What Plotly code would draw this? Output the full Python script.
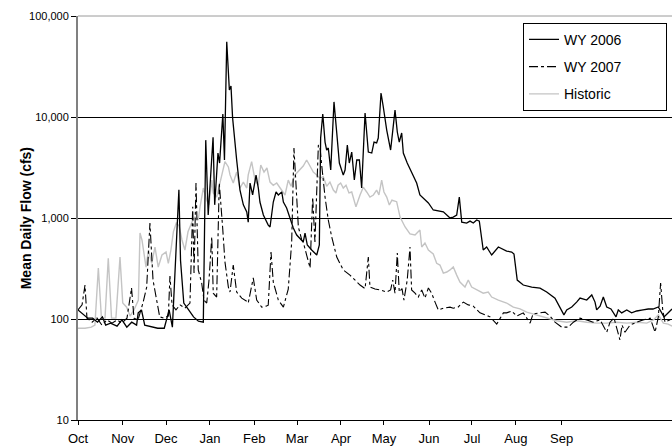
import plotly.graph_objects as go

# ---- data (day of water year from Oct 1, mean daily flow in cfs) ----
wy2006_day = [0, 4, 6, 9, 12, 15, 17, 20, 24, 27, 30, 33, 36, 37, 39, 41, 44, 49, 53, 55, 56, 58,
              60, 61, 62, 63, 65, 68, 71, 74, 76, 77, 78.5, 80, 83, 84, 86, 87, 89, 90, 91.4, 93, 94,
              95, 97.5, 99.5, 101.6, 103.7, 104.6, 105.7, 107.3, 109.4, 110.8, 111.8, 113.9, 116.9,
              118, 120, 121.7, 123.1, 125.2, 126.2, 128.2, 130.3, 132.3, 134.4, 136.4, 138.4, 139.5,
              140.9, 143.6, 146.7, 148.3, 149.1, 150.4, 151.8, 152.8, 153.8, 155.3, 157.3, 159, 160.6,
              163, 164.1, 165.5, 166.7, 168.2, 169.8, 171.3, 172.9, 174.3, 176.4, 178.4, 180.5, 181.9,
              183.5, 184.5, 186.2, 187.6, 189.7, 192.1, 194.8, 196.2, 197.4, 198.9, 199.9, 202.3, 205,
              208.1, 210.1, 212.2, 215.3, 218.3, 221.4, 224.5, 228.6, 230.6, 232.7, 234.3, 235.8,
              238.8, 240.9, 242.9, 245, 246.6, 249, 251.1, 254.2, 258.3, 263.4, 266.5, 267.9, 269.9,
              273.6, 278.8, 283.9, 288, 293.1, 296.2, 298.6, 300.3, 303.4, 306.4, 308.5, 312.6, 315.7,
              317.7, 318.7, 320.8, 322.8, 324.9, 327.5, 330.6, 332, 334.1, 337.2, 340.2, 343.3, 347.2,
              350.4, 353.3, 356.6, 360.1, 362.7, 365]
wy2006_cfs = [123, 110, 102, 102, 93, 105, 87, 91, 85, 98, 83, 93, 87, 115, 123, 87, 85, 81, 81, 105,
              123, 83, 480, 1070, 1900, 380, 144, 123, 105, 95, 93, 93, 5900, 1070, 6300, 1350, 4400,
              3500, 10700, 3750, 55600, 18500, 20300, 9800, 3750, 1900, 1350, 1150, 910, 2220, 1690,
              2660, 1980, 1440, 1070, 850, 814, 1440, 1810, 1690, 1810, 1440, 1256, 1000, 795, 678,
              633, 578, 710, 540, 482, 430, 540, 6190, 10700, 5650, 4710, 4930, 2985, 14100, 6940,
              3500, 2660, 2985, 5280, 3500, 4500, 2380, 3750, 3750, 1980, 10950, 4500, 4400, 5650,
              5530, 6190, 17280, 12560, 7430, 4710, 11700, 7100, 5650, 6940, 4400, 3500, 2790, 2220,
              1690, 1577, 1410, 1200, 1175, 1150, 1000, 1020, 1070, 1610, 910, 891, 932, 891, 955,
              932, 482, 516, 430, 516, 471, 460, 440, 243, 217, 207, 202, 185, 161, 131.5, 110, 123,
              131.5, 147, 161, 154, 173, 147, 123, 134, 165, 131.5, 125.6, 105, 123, 115, 123, 115,
              120, 123, 125.6, 125.6, 131.5, 105, 115, 125.6]

wy2007_day = [0, 2.5, 4.3, 5.5, 8.6, 11.7, 14.7, 17.8, 20.9, 24, 27, 30.1, 32.9, 34.4, 36.9, 39.9,
              42.2, 44.2, 46.1, 48.2, 50.2, 52.8, 55.5, 56.5, 57.8, 60.2, 62.7, 65.7, 68.8, 70.5, 71.3,
              72.5, 73.9, 76, 77.4, 79.1, 80.5, 82.2, 83.1, 85.2, 86.8, 88.9, 90.3, 92.4, 93.4, 95.4,
              97.5, 100.6, 103.7, 104.6, 107.7, 109.8, 112.9, 115.5, 116.9, 118.6, 120, 123.1, 126.2,
              129.2, 131.3, 132.7, 134, 135.4, 137.5, 138.4, 140.5, 142.6, 144.2, 145.6, 147.7, 148.7,
              149.7, 151.8, 153.8, 155.9, 159, 163, 167.1, 170.2, 173.3, 176.4, 178.4, 179.4, 182.5,
              185.6, 189.7, 192.1, 193.4, 194.8, 196.2, 197.4, 199.1, 200.3, 202.3, 204, 205, 207.1,
              209.1, 211.2, 213.2, 215.3, 217.3, 219.4, 221.4, 224.5, 228.6, 230.6, 233.5, 236.8,
              239.8, 242.9, 247, 250.1, 253.2, 257.3, 261.4, 263.4, 266.5, 269.6, 273.6, 277.8, 279.6,
              283.9, 287, 290, 293.1, 297.2, 301.3, 304.4, 308.5, 312.6, 316.5, 320.8, 324.9, 326.9,
              329.4, 333, 334.3, 336.1, 339.2, 343.3, 347.2, 351.6, 354.6, 356.6, 358, 359.3, 360.7,
              363.8, 365]
wy2007_cfs = [123, 138, 217, 102, 93, 102, 87, 98, 91, 98, 91, 102, 203, 102, 98, 144, 207, 890, 243,
              154, 105, 102, 107, 266, 138, 123, 138, 128, 144, 1290, 285, 2220, 306, 227, 154, 144,
              243, 650, 180, 165, 2220, 795, 368, 207, 185, 342, 185, 161, 150, 144, 255, 154, 131,
              134, 137, 460, 232, 154, 131, 198, 578, 4930, 2220, 815, 606, 578, 430, 320, 1610, 578,
              5280, 5050, 3400, 1610, 955, 650, 410, 306, 272, 243, 217, 200, 410, 207, 198, 194, 185,
              194, 243, 180, 450, 185, 200, 154, 243, 516, 194, 180, 165, 194, 161, 203, 180, 147,
              123, 128, 131, 128, 131, 147, 138, 134, 115, 110, 105, 89, 115, 115, 120, 107, 115, 91,
              112, 115, 117, 107, 93, 83, 83, 93, 102, 98, 93, 98, 74, 93, 102, 62, 87, 74, 87, 93,
              98, 102, 74, 105, 227, 123, 93, 98, 102]

hist_day = [0, 4.3, 8.2, 10.4, 12.5, 14.4, 16.6, 18.6, 20.6, 23.3, 25.8, 27.5, 29.9, 32, 34.4, 37.1,
            38.1, 39.3, 41.8, 43.3, 45.3, 47.3, 49.3, 51.6, 54.1, 55.5, 57.1, 58.6, 60.4, 62.1, 63.9,
            65.7, 67.6, 70, 71.9, 73.9, 75, 77, 79.1, 80.5, 82.2, 83.1, 85.2, 86.6, 88.3, 90.3, 92.4,
            93.4, 95.4, 97.5, 99.5, 101.6, 103.7, 104.6, 106.7, 108.8, 110.8, 112.3, 114.3, 116.1,
            118, 120, 122.1, 124.1, 127.2, 129.2, 130.9, 133.3, 136.4, 138.4, 140.5, 142.6, 144.6,
            146.7, 148.7, 150.7, 152.8, 154.8, 156.9, 158.5, 159.8, 161.4, 163, 164.7, 166.5, 168.2,
            170.8, 173.3, 175.3, 177.4, 179.4, 181.5, 183.5, 184.9, 186.6, 188, 189.7, 191.3, 192.9,
            195.8, 197.9, 201, 204, 207.1, 210.1, 211.2, 213.2, 215.3, 218.3, 220.4, 222.4, 224.5,
            226.6, 228.6, 230.6, 232.7, 234.7, 237.8, 239.8, 241.9, 245, 249, 252.1, 254.2, 258.3,
            263.4, 267.5, 271.6, 275.7, 281.9, 288, 294.1, 300.3, 306.4, 312.6, 318.7, 324.9, 331,
            337.2, 343.3, 349.5, 353.6, 356.6, 359.7, 362.6, 365]
hist_cfs = [81, 81, 83, 87, 320, 102, 102, 400, 102, 102, 410, 144, 131, 107, 123, 154, 710, 606, 327,
            482, 356, 516, 327, 430, 460, 356, 482, 730, 890, 835, 606, 482, 730, 910, 1020, 955,
            1290, 1980, 1500, 1345, 2370, 1770, 1610, 1980, 2570, 3610, 3200, 2670, 2220, 2850, 1980,
            2270, 1980, 2670, 3610, 2370, 2110, 3350, 2850, 3125, 2270, 2110, 2220, 1980, 1690, 2370,
            2060, 2670, 2990, 3270, 3750, 3270, 2850, 2670, 2480, 2570, 2060, 2270, 1890, 1770, 2110,
            2220, 1980, 2110, 1770, 1810, 1290, 1690, 2020, 1810, 1610, 1690, 1890, 1690, 2370, 1810,
            1610, 1345, 1500, 1450, 1020, 815, 695, 680, 760, 516, 565, 482, 440, 356, 342, 285, 292,
            306, 327, 272, 232, 207, 243, 207, 194, 180, 185, 165, 154, 144, 131, 126, 117, 110, 102,
            96, 93, 96, 93, 91, 91, 93, 91, 93, 91, 98, 110, 91, 89, 85]

series_names = ["WY 2006", "WY 2007", "Historic"]
month_labels = ["Oct", "Nov", "Dec", "Jan", "Feb", "Mar", "Apr", "May", "Jun", "Jul", "Aug", "Sep"]
month_ticks = [0, 27.5, 54.1, 81.1, 108.3, 134.6, 161.6, 188, 215.7, 242.1, 269.1, 297.2]
y_tickvals = [10, 100, 1000, 10000, 100000]
y_ticktext = ["10", "100", "1,000", "10,000", "100,000"]

FONT = "Arial, 'Liberation Sans', sans-serif"
PAD = "\u00a0" * 10  # widens the legend box to the right of the labels


def legend_label(name):
    return name + PAD


fig = go.Figure()
fig.add_trace(go.Scatter(x=hist_day, y=hist_cfs, mode="lines", name=legend_label(series_names[2]),
                         legendrank=3, legendgroup="c",
                         line=dict(color="#c4c4c4", width=1.4)))
fig.add_trace(go.Scatter(x=wy2007_day, y=wy2007_cfs, mode="lines", name=legend_label(series_names[1]),
                         legendrank=2, legendgroup="b",
                         line=dict(color="black", width=1.1, dash="dashdot")))
fig.add_trace(go.Scatter(x=wy2006_day, y=wy2006_cfs, mode="lines", name=legend_label(series_names[0]),
                         legendrank=1, legendgroup="a",
                         line=dict(color="black", width=1.3)))

fig.update_layout(
    width=672, height=448,
    margin=dict(l=78, r=0, t=16, b=28, autoexpand=False),
    paper_bgcolor="white", plot_bgcolor="white",
    font=dict(family=FONT, color="black", size=11),
    showlegend=True,
    legend=dict(x=0.9916, y=0.983, xanchor="right", yanchor="top",
                bgcolor="white", bordercolor="black", borderwidth=1,
                font=dict(size=14, family=FONT), traceorder="grouped", tracegroupgap=6,
                itemwidth=30),
    xaxis=dict(range=[0, 365], showgrid=False, zeroline=False, automargin=False,
               tickmode="array", tickvals=month_ticks, ticktext=month_labels,
               ticks="outside", ticklen=4, tickcolor="black", tickwidth=1,
               showline=True, linecolor="black", linewidth=1,
               ticklabelstandoff=2,
               tickfont=dict(size=13, family=FONT)),
    yaxis=dict(type="log", range=[1, 5], showgrid=True, gridcolor="black", gridwidth=1,
               zeroline=False, automargin=False, tickmode="array", tickvals=y_tickvals,
               ticktext=y_ticktext,
               ticks="outside", ticklen=5, tickcolor="black", tickwidth=1,
               showline=True, linecolor="#808080", linewidth=2,
               tickfont=dict(size=11, family=FONT)),
    shapes=[dict(type="line", xref="paper", yref="paper", x0=0, x1=1, y0=1, y1=1,
                 line=dict(color="#9a9a9a", width=1), layer="above")],
    annotations=[dict(text="<b>Mean Daily Flow (cfs)</b>", textangle=-90,
                      xref="paper", yref="paper", x=-0.087, y=0.5,
                      xanchor="center", yanchor="middle", showarrow=False,
                      font=dict(size=14, family=FONT))],
)

fig.write_html("out.html")
